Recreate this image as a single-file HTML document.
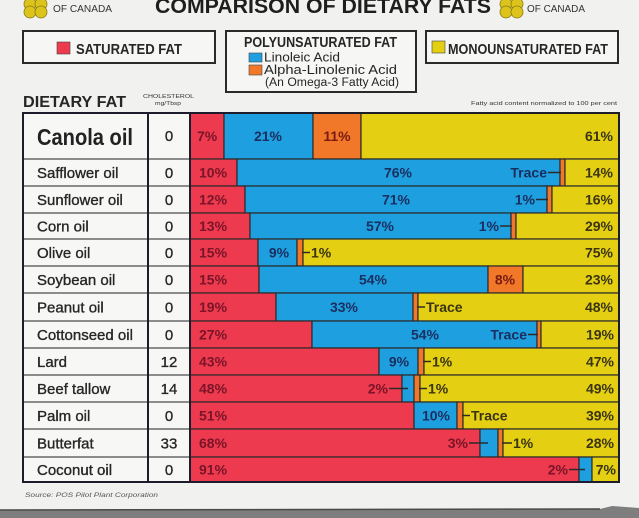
<!DOCTYPE html>
<html><head><meta charset="utf-8"><style>
html,body{margin:0;padding:0;background:#f1f1ef;}
svg{display:block;}
text{font-family:"Liberation Sans",Arial,sans-serif;}
.b{font-weight:bold;}
.lr{font-weight:bold;font-size:14px;fill:#7a1428;}
.lb{font-weight:bold;font-size:14px;fill:#1a2f60;text-anchor:middle;}
.ly{font-weight:bold;font-size:14px;fill:#3a3412;}
.lo{font-weight:bold;font-size:14px;fill:#7a1a14;text-anchor:middle;}
.nm{font-size:15px;fill:#262626;stroke:#262626;stroke-width:0.35;}
.ch{font-size:15px;fill:#262626;stroke:#262626;stroke-width:0.3;text-anchor:middle;}
.ld{stroke:#2a2a2a;stroke-width:1.5;}
</style></head><body>
<svg width="639" height="518" viewBox="0 0 639 518" xmlns="http://www.w3.org/2000/svg">
<rect x="0" y="0" width="639" height="518" fill="#f1f1ef"/>
<!-- bottom grey strip -->
<polygon points="0,510 600,509 612,506 639,508 639,518 0,518" fill="#7e7e7e"/>
<line x1="0" y1="510" x2="600" y2="509" stroke="#4a4a4a" stroke-width="1.5"/>

<!-- logos -->
<g fill="#dcc41c" stroke="#8a7a10" stroke-width="0.8">
<circle cx="30" cy="4" r="6"/><circle cx="41" cy="4" r="6"/><circle cx="30" cy="12" r="6"/><circle cx="41" cy="12" r="6"/>
<circle cx="506" cy="4" r="6"/><circle cx="517" cy="4" r="6"/><circle cx="506" cy="12" r="6"/><circle cx="517" cy="12" r="6"/>
</g>
<text x="53" y="12" font-size="10" fill="#333" textLength="59" lengthAdjust="spacingAndGlyphs">OF CANADA</text>
<text x="527" y="12" font-size="10" fill="#333" textLength="58" lengthAdjust="spacingAndGlyphs">OF CANADA</text>
<text x="155" y="13" class="b" font-size="21" fill="#1e1e1e" textLength="336" lengthAdjust="spacingAndGlyphs">COMPARISON OF DIETARY FATS</text>

<!-- legend boxes -->
<g fill="#f6f6f4" stroke="#2a2a2a" stroke-width="2">
<rect x="23" y="31" width="192" height="32"/>
<rect x="226" y="31" width="190" height="61"/>
<rect x="426" y="31" width="192" height="32"/>
</g>
<rect x="57" y="42" width="13" height="12" fill="#ee3a4e" stroke="#444" stroke-width="0.6"/>
<text x="76" y="54" class="b" font-size="15" fill="#262626" textLength="106" lengthAdjust="spacingAndGlyphs">SATURATED FAT</text>
<text x="244" y="47" class="b" font-size="15" fill="#262626" textLength="153" lengthAdjust="spacingAndGlyphs">POLYUNSATURATED FAT</text>
<rect x="249" y="53" width="13" height="9" fill="#1ea0e0" stroke="#444" stroke-width="0.6"/>
<text x="264" y="61.5" font-size="12.5" fill="#262626" textLength="76" lengthAdjust="spacingAndGlyphs">Linoleic Acid</text>
<rect x="249" y="65" width="13" height="10" fill="#f07828" stroke="#444" stroke-width="0.6"/>
<text x="264" y="74" font-size="12.5" fill="#262626" textLength="133" lengthAdjust="spacingAndGlyphs">Alpha-Linolenic Acid</text>
<text x="265" y="86" font-size="11.5" fill="#262626" textLength="134" lengthAdjust="spacingAndGlyphs">(An Omega-3 Fatty Acid)</text>
<rect x="432" y="41" width="13" height="12" fill="#e4cf12" stroke="#444" stroke-width="0.6"/>
<text x="448" y="54" class="b" font-size="15" fill="#262626" textLength="160" lengthAdjust="spacingAndGlyphs">MONOUNSATURATED FAT</text>

<text x="23" y="107" class="b" font-size="16" fill="#262626" textLength="103" lengthAdjust="spacingAndGlyphs">DIETARY FAT</text>
<text x="143" y="98" font-size="5" fill="#333" textLength="51" lengthAdjust="spacingAndGlyphs">CHOLESTEROL</text>
<text x="155" y="105" font-size="5.5" fill="#333" textLength="26" lengthAdjust="spacingAndGlyphs">mg/Tbsp</text>
<text x="471" y="105" font-size="5.5" fill="#333" textLength="146" lengthAdjust="spacingAndGlyphs">Fatty acid content normalized to 100 per cent</text>

<!-- table background -->
<rect x="23" y="113" width="167" height="369" fill="#f7f7f5"/>

<!-- bars -->
<g stroke="#2a2a2a" stroke-width="1.2">
<!-- Canola 113-159 -->
<rect x="190" y="113" width="34" height="46" fill="#ee3a4e"/><rect x="224" y="113" width="89" height="46" fill="#1ea0e0"/><rect x="313" y="113" width="48" height="46" fill="#f07828"/><rect x="361" y="113" width="258" height="46" fill="#e4cf12"/>
<!-- Safflower 159-186 -->
<rect x="190" y="159" width="47" height="27" fill="#ee3a4e"/><rect x="237" y="159" width="323" height="27" fill="#1ea0e0"/><rect x="560" y="159" width="5" height="27" fill="#f07828"/><rect x="565" y="159" width="54" height="27" fill="#e4cf12"/>
<!-- Sunflower 186-213 -->
<rect x="190" y="186" width="55" height="27" fill="#ee3a4e"/><rect x="245" y="186" width="302" height="27" fill="#1ea0e0"/><rect x="547" y="186" width="5" height="27" fill="#f07828"/><rect x="552" y="186" width="67" height="27" fill="#e4cf12"/>
<!-- Corn 213-239 -->
<rect x="190" y="213" width="60" height="26" fill="#ee3a4e"/><rect x="250" y="213" width="261" height="26" fill="#1ea0e0"/><rect x="511" y="213" width="5" height="26" fill="#f07828"/><rect x="516" y="213" width="103" height="26" fill="#e4cf12"/>
<!-- Olive 239-266 -->
<rect x="190" y="239" width="68" height="27" fill="#ee3a4e"/><rect x="258" y="239" width="39" height="27" fill="#1ea0e0"/><rect x="297" y="239" width="6" height="27" fill="#f07828"/><rect x="303" y="239" width="316" height="27" fill="#e4cf12"/>
<!-- Soybean 266-293 -->
<rect x="190" y="266" width="69" height="27" fill="#ee3a4e"/><rect x="259" y="266" width="229" height="27" fill="#1ea0e0"/><rect x="488" y="266" width="35" height="27" fill="#f07828"/><rect x="523" y="266" width="96" height="27" fill="#e4cf12"/>
<!-- Peanut 293-321 -->
<rect x="190" y="293" width="86" height="28" fill="#ee3a4e"/><rect x="276" y="293" width="137" height="28" fill="#1ea0e0"/><rect x="413" y="293" width="5" height="28" fill="#f07828"/><rect x="418" y="293" width="201" height="28" fill="#e4cf12"/>
<!-- Cottonseed 321-348 -->
<rect x="190" y="321" width="122" height="27" fill="#ee3a4e"/><rect x="312" y="321" width="225" height="27" fill="#1ea0e0"/><rect x="537" y="321" width="4" height="27" fill="#f07828"/><rect x="541" y="321" width="78" height="27" fill="#e4cf12"/>
<!-- Lard 348-375 -->
<rect x="190" y="348" width="189" height="27" fill="#ee3a4e"/><rect x="379" y="348" width="39" height="27" fill="#1ea0e0"/><rect x="418" y="348" width="6" height="27" fill="#f07828"/><rect x="424" y="348" width="195" height="27" fill="#e4cf12"/>
<!-- Beef 375-402 -->
<rect x="190" y="375" width="212" height="27" fill="#ee3a4e"/><rect x="402" y="375" width="12" height="27" fill="#1ea0e0"/><rect x="414" y="375" width="6" height="27" fill="#f07828"/><rect x="420" y="375" width="199" height="27" fill="#e4cf12"/>
<!-- Palm 402-429 -->
<rect x="190" y="402" width="224" height="27" fill="#ee3a4e"/><rect x="414" y="402" width="43" height="27" fill="#1ea0e0"/><rect x="457" y="402" width="6" height="27" fill="#f07828"/><rect x="463" y="402" width="156" height="27" fill="#e4cf12"/>
<!-- Butter 429-457 -->
<rect x="190" y="429" width="290" height="28" fill="#ee3a4e"/><rect x="480" y="429" width="18" height="28" fill="#1ea0e0"/><rect x="498" y="429" width="5" height="28" fill="#f07828"/><rect x="503" y="429" width="116" height="28" fill="#e4cf12"/>
<!-- Coconut 457-482 -->
<rect x="190" y="457" width="389" height="25" fill="#ee3a4e"/><rect x="579" y="457" width="13" height="25" fill="#1ea0e0"/><rect x="592" y="457" width="27" height="25" fill="#e4cf12"/>
</g>

<!-- left column row separators -->
<g stroke="#8c8c8c" stroke-width="2">
<line x1="23" y1="159" x2="190" y2="159"/><line x1="23" y1="186" x2="190" y2="186"/><line x1="23" y1="213" x2="190" y2="213"/><line x1="23" y1="239" x2="190" y2="239"/><line x1="23" y1="266" x2="190" y2="266"/><line x1="23" y1="293" x2="190" y2="293"/><line x1="23" y1="321" x2="190" y2="321"/><line x1="23" y1="348" x2="190" y2="348"/><line x1="23" y1="375" x2="190" y2="375"/><line x1="23" y1="402" x2="190" y2="402"/><line x1="23" y1="429" x2="190" y2="429"/><line x1="23" y1="457" x2="190" y2="457"/>
</g>
<g stroke="#1c1c2c" stroke-width="2" fill="none">
<rect x="23" y="113" width="596" height="369"/>
<line x1="148" y1="113" x2="148" y2="482"/>
<line x1="190" y1="113" x2="190" y2="482"/>
</g>

<!-- names -->
<text x="37" y="145" class="b" font-size="23" fill="#222" textLength="96" lengthAdjust="spacingAndGlyphs">Canola oil</text>
<text x="37" y="178" class="nm">Safflower oil</text>
<text x="37" y="205" class="nm">Sunflower oil</text>
<text x="37" y="231.5" class="nm">Corn oil</text>
<text x="37" y="258" class="nm">Olive oil</text>
<text x="37" y="285" class="nm">Soybean oil</text>
<text x="37" y="312.5" class="nm">Peanut oil</text>
<text x="37" y="340" class="nm">Cottonseed oil</text>
<text x="37" y="367" class="nm">Lard</text>
<text x="37" y="394" class="nm">Beef tallow</text>
<text x="37" y="421" class="nm">Palm oil</text>
<text x="37" y="448.5" class="nm">Butterfat</text>
<text x="37" y="475" class="nm">Coconut oil</text>

<!-- cholesterol -->
<text x="169" y="141" class="ch">0</text>
<text x="169" y="178" class="ch">0</text>
<text x="169" y="205" class="ch">0</text>
<text x="169" y="231.5" class="ch">0</text>
<text x="169" y="258" class="ch">0</text>
<text x="169" y="285" class="ch">0</text>
<text x="169" y="312.5" class="ch">0</text>
<text x="169" y="340" class="ch">0</text>
<text x="169" y="367" class="ch">12</text>
<text x="169" y="394" class="ch">14</text>
<text x="169" y="421" class="ch">0</text>
<text x="169" y="448.5" class="ch">33</text>
<text x="169" y="475" class="ch">0</text>

<!-- red labels -->
<text x="197" y="141" class="lr">7%</text>
<text x="199" y="177.5" class="lr">10%</text>
<text x="199" y="204.5" class="lr">12%</text>
<text x="199" y="231" class="lr">13%</text>
<text x="199" y="257.5" class="lr">15%</text>
<text x="199" y="284.5" class="lr">15%</text>
<text x="199" y="312" class="lr">19%</text>
<text x="199" y="339.5" class="lr">27%</text>
<text x="199" y="366.5" class="lr">43%</text>
<text x="199" y="393.5" class="lr">48%</text>
<text x="199" y="420.5" class="lr">51%</text>
<text x="199" y="448" class="lr">68%</text>
<text x="199" y="474.5" class="lr">91%</text>

<!-- blue labels -->
<text x="268" y="141" class="lb">21%</text>
<text x="398" y="177.5" class="lb">76%</text>
<text x="396" y="204.5" class="lb">71%</text>
<text x="380" y="231" class="lb">57%</text>
<text x="279" y="257.5" class="lb">9%</text>
<text x="373" y="284.5" class="lb">54%</text>
<text x="344" y="312" class="lb">33%</text>
<text x="425" y="339.5" class="lb">54%</text>
<text x="399" y="366.5" class="lb">9%</text>
<text x="436" y="420.5" class="lb">10%</text>

<!-- orange labels -->
<text x="337" y="141" class="lo">11%</text>
<text x="505" y="284.5" class="lo">8%</text>

<!-- yellow right labels -->
<g class="ly" text-anchor="end">
<text x="613" y="141" text-anchor="end">61%</text>
<text x="613" y="177.5" text-anchor="end">14%</text>
<text x="613" y="204.5" text-anchor="end">16%</text>
<text x="613" y="231" text-anchor="end">29%</text>
<text x="613" y="257.5" text-anchor="end">75%</text>
<text x="613" y="284.5" text-anchor="end">23%</text>
<text x="613" y="312" text-anchor="end">48%</text>
<text x="614" y="339.5" text-anchor="end">19%</text>
<text x="614" y="366.5" text-anchor="end">47%</text>
<text x="614" y="393.5" text-anchor="end">49%</text>
<text x="614" y="420.5" text-anchor="end">39%</text>
<text x="614" y="448" text-anchor="end">28%</text>
<text x="616" y="474.5" text-anchor="end">7%</text>
</g>

<!-- small-value labels with leaders -->
<text x="547" y="177.5" class="lb" text-anchor="end" style="text-anchor:end">Trace</text>
<line class="ld" x1="548" y1="172.5" x2="561" y2="172.5"/>
<text x="535" y="204.5" class="lb" style="text-anchor:end">1%</text>
<line class="ld" x1="536" y1="199.5" x2="548" y2="199.5"/>
<text x="499" y="231" class="lb" style="text-anchor:end">1%</text>
<line class="ld" x1="500" y1="226" x2="512" y2="226"/>

<line class="ld" x1="302" y1="252.5" x2="310" y2="252.5"/>
<text x="311" y="257.5" class="ly">1%</text>

<line class="ld" x1="417" y1="307" x2="425" y2="307"/>
<text x="426" y="312" class="ly">Trace</text>

<text x="527" y="339.5" class="lb" style="text-anchor:end">Trace</text>
<line class="ld" x1="528" y1="334.5" x2="538" y2="334.5"/>

<line class="ld" x1="423" y1="361.5" x2="431" y2="361.5"/>
<text x="432" y="366.5" class="ly">1%</text>

<text x="388" y="393.5" class="lr" text-anchor="end">2%</text>
<line class="ld" x1="389" y1="388.5" x2="408" y2="388.5"/>
<line class="ld" x1="419" y1="388.5" x2="427" y2="388.5"/>
<text x="428" y="393.5" class="ly">1%</text>

<line class="ld" x1="462" y1="415.5" x2="470" y2="415.5"/>
<text x="471" y="420.5" class="ly">Trace</text>

<text x="468" y="448" class="lr" text-anchor="end">3%</text>
<line class="ld" x1="469" y1="443" x2="488" y2="443"/>
<line class="ld" x1="502" y1="443" x2="512" y2="443"/>
<text x="513" y="448" class="ly">1%</text>

<text x="568" y="474.5" class="lr" text-anchor="end">2%</text>
<line class="ld" x1="569" y1="469.5" x2="585" y2="469.5"/>

<text x="25" y="497" font-size="6.5" font-style="italic" fill="#555" textLength="133" lengthAdjust="spacingAndGlyphs">Source: POS Pilot Plant Corporation</text>
</svg>
</body></html>
